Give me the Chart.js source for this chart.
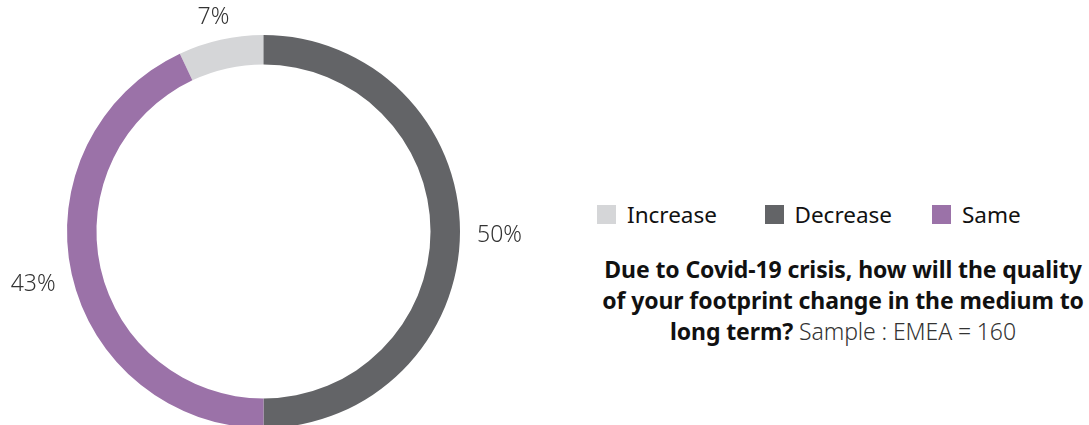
<!DOCTYPE html>
<html>
<head>
<meta charset="utf-8">
<script src="https://cdn.jsdelivr.net/npm/chart.js@4/dist/chart.umd.min.js"></script>
<style>
    html, body { margin: 0; padding: 0; background: #fff; }
    body { width: 1089px; height: 425px; overflow: hidden; position: relative; font-family: "Noto Sans", "Open Sans", sans-serif; color: #111; }
    #wrap { position: absolute; left: 0; top: 0; width: 527px; height: 463px; }
    #legend { position: absolute; left: 597px; top: 199px; display: flex; font-size: 22.5px; white-space: nowrap; }
    .item { display: flex; align-items: center; width: 167.5px; }
    .box { width: 19px; height: 19px; margin-right: 11px; }
    #caption { position: absolute; left: 543px; top: 254px; width: 600px; text-align: center; font-size: 23px; line-height: 31px; font-weight: 700; letter-spacing: -0.1px; }
    #caption span { font-weight: 300; color: #333; }
</style>
</head>
<body>
<div id="wrap"><canvas id="donut" width="527" height="463"></canvas></div>
<div id="legend"></div>
<div id="caption">Due to Covid-19 crisis, how will the quality<br>of your footprint change in the medium to<br>long term? <span>Sample : EMEA = 160</span></div>
<script>
// data
const categories = ['Increase', 'Decrease', 'Same'];
const shares = [7, 50, 43];
const colors = ['#d5d6d8', '#636467', '#9b72a8'];

// percentage labels outside the ring
const outsideLabels = {
    id: 'outsideLabels',
    afterDraw(chart) {
        const ctx = chart.ctx;
        const meta = chart.getDatasetMeta(0);
        ctx.save();
        ctx.font = '300 23px "Noto Sans", "Open Sans", sans-serif';
        ctx.fillStyle = '#333';
        ctx.textAlign = 'center';
        ctx.textBaseline = 'middle';
        meta.data.forEach((arc, i) => {
            const p = arc.getProps(['x', 'y', 'startAngle', 'endAngle', 'outerRadius'], true);
            const mid = (p.startAngle + p.endAngle) / 2;
            const cos = Math.cos(mid), sin = Math.sin(mid);
            const text = shares[i] + '%';
            const w = ctx.measureText(text).width;
            const h = 20;
            const r = p.outerRadius + 17;
            const x = p.x + cos * r + cos * w / 2;
            const y = p.y + sin * r + sin * h / 2 + 4;
            ctx.fillText(text, x, y);
        });
        ctx.restore();
    }
};

new Chart(document.getElementById('donut'), {
    type: 'doughnut',
    data: {
        labels: categories,
        datasets: [{
            data: shares,
            backgroundColor: colors,
            borderWidth: 0
        }]
    },
    options: {
        responsive: false,
        maintainAspectRatio: false,
        animation: false,
        cutout: '85%',
        rotation: -shares[0] * 3.6,
        layout: { padding: 35 },
        plugins: {
            legend: { display: false },
            tooltip: { enabled: false }
        }
    },
    plugins: [outsideLabels]
});

// html legend built from the same arrays
const legend = document.getElementById('legend');
categories.forEach((c, i) => {
    const item = document.createElement('div');
    item.className = 'item';
    item.innerHTML = `<div class="box" style="background:${colors[i]}"></div>${c}`;
    legend.appendChild(item);
});
</script>
</body>
</html>
